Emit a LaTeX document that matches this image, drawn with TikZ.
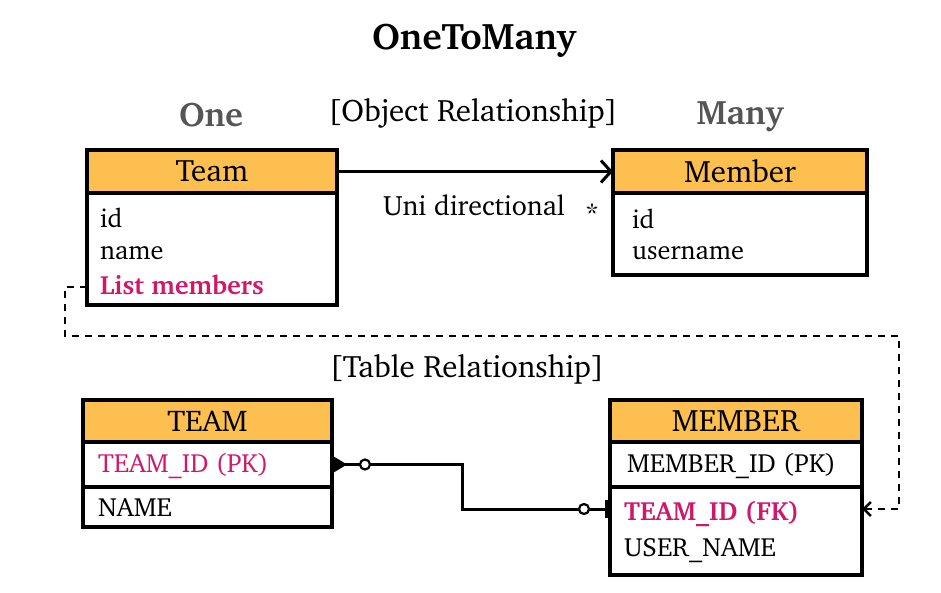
\documentclass[tikz,border=0pt]{standalone}
\usepackage[T1]{fontenc}
\renewcommand\rmdefault{bch}
\usetikzlibrary{arrows.meta}
\definecolor{hdrorange}{RGB}{253,191,79}
\definecolor{keypink}{RGB}{208,24,107}
\definecolor{headgray}{RGB}{85,85,85}
\newcommand\fsz[1]{\fontsize{#1}{#1}\selectfont}
\tikzset{
  boxline/.style={draw=black, line width=3.2pt, inner sep=0pt, outer sep=0pt, rectangle},
  hdr/.style={boxline, fill=hdrorange, anchor=north west, font=\fsz{31}},
  bodybox/.style={boxline, fill=white, anchor=north west},
  field/.style={anchor=west, inner sep=0pt, font=\fsz{26.3}},
  keyfield/.style={field, text=keypink},
  label/.style={inner sep=0pt, font=\fsz{31}},
  sidehead/.style={inner sep=0pt, font=\fsz{34}\bfseries, text=headgray},
  conn/.style={line width=3pt, black},
  dashconn/.style={line width=2.8pt, black, dash pattern=on 7pt off 6pt},
}
\begin{document}
\begin{tikzpicture}[x=1pt,y=-1pt]
\useasboundingbox[fill=white] (0,0) rectangle (941,593);

\node[inner sep=0pt, font=\fsz{37}\bfseries] (title) at (474,41) {OneToMany};
\node[sidehead] (one) at (211,115) {One};
\node[sidehead] (many) at (740,116) {Many};
\node[label] (objrel) at (473,113) {[Object Relationship]};
\node[label] (tabrel) at (467,369) {[Table Relationship]};

% Object: Team
\node[hdr, minimum width=250pt, minimum height=43pt] (teamh) at (87,150) {Team};
\node[bodybox, minimum width=250pt, minimum height=112pt] (teamb) at (teamh.south west) {};
\node[field] (tid) at (100,218) {id};
\node[field] (tname) at (100,253) {name};
\node[keyfield, font=\fsz{26.3}\bfseries] (tlist) at (100,285) {List members};

% Object: Member
\node[hdr, minimum width=254pt, minimum height=43pt] (memh) at (613,150) {Member};
\node[bodybox, minimum width=254pt, minimum height=82pt] (memb) at (memh.south west) {};
\node[field] (mid) at (632,219) {id};
\node[field] (muser) at (632,253) {username};

\draw[conn, -{Straight Barb[length=10pt,width=22pt,line width=3pt]}] (teamh.east) -- (memh.west);
\node[inner sep=0pt, font=\fsz{28}] (uni) at (474,205) {Uni directional};
\node[inner sep=0pt, font=\fsz{28}] (star) at (592,214) {*};

% Table: TEAM
\node[hdr, minimum width=249pt, minimum height=42pt, font=\fsz{30}] (TEAMh) at (83,400) {TEAM};
\node[bodybox, minimum width=249pt, minimum height=45pt] (TEAMpk) at (TEAMh.south west) {};
\node[bodybox, minimum width=249pt, minimum height=40pt] (TEAMrest) at (TEAMpk.south west) {};
\node[keyfield] (Tpk) at (98,466) {TEAM\_ID (PK)};
\node[field] (Tname) at (98,508) {NAME};

% Table: MEMBER
\node[hdr, minimum width=252pt, minimum height=42pt] (MEMh) at (610,400) {MEMBER};
\node[bodybox, minimum width=252pt, minimum height=45pt] (MEMpk) at (MEMh.south west) {};
\node[bodybox, minimum width=252pt, minimum height=88pt] (MEMrest) at (MEMpk.south west) {};
\node[field] (Mpk) at (627,466) {MEMBER\_ID (PK)};
\node[keyfield, font=\fsz{26.3}\bfseries] (Mfk) at (624,514) {TEAM\_ID (FK)};
\node[field] (Muser) at (624,551) {USER\_NAME};

% dashed mapping
\draw[dashconn, -{Straight Barb[length=7pt,width=14pt,line width=2.6pt]}]
  (teamb.west |- 0,287) -| (65,336) -| (899,509) -- (MEMrest.east |- 0,509);

% crow's foot connector
\draw[conn] (TEAMpk.east) -- (462,464.5) -- (462,509) -- (MEMrest.west |- 0,509);
\fill (TEAMpk.east) ++(0,-9) -- ++(15,9) -- ++(-15,9) -- cycle;
\draw[line width=2.2pt, fill=white] ([xshift=33pt]TEAMpk.east) circle[radius=5pt];
\draw[line width=3pt] (606,500) -- (606,518);
\draw[line width=2.2pt, fill=white] (584,509) circle[radius=5pt];
\end{tikzpicture}
\end{document}
